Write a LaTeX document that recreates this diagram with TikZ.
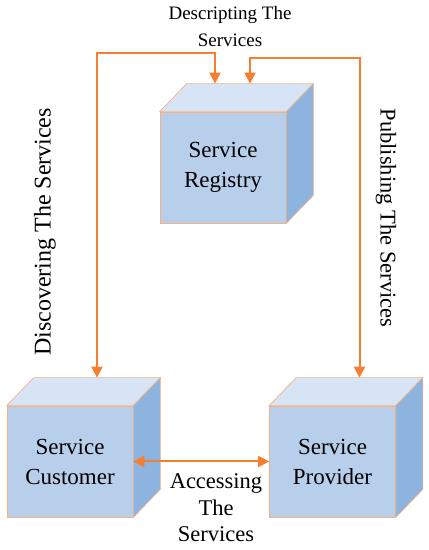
\documentclass[tikz,border=0pt]{standalone}
\usepackage{fontspec}
\setmainfont{Liberation Serif}
\usetikzlibrary{arrows.meta,positioning,calc}

\definecolor{facefront}{RGB}{184,207,235}
\definecolor{facetop}{RGB}{215,228,245}
\definecolor{faceside}{RGB}{141,180,222}
\definecolor{cubeedge}{RGB}{244,177,131}
\definecolor{linkorange}{RGB}{247,125,48}

\tikzset{
  cube/.style={rectangle, draw=cubeedge, line width=0.7pt, fill=facefront,
    minimum width=126pt, minimum height=111pt, inner sep=0pt, align=center,
    font=\fontsize{23}{30}\selectfont},
  link/.style={color=linkorange, line width=2pt,
    {Triangle[length=11pt,width=11pt]}-{Triangle[length=11pt,width=11pt]}},
  linklabel/.style={align=center, font=\fontsize{21}{26.5}\selectfont},
}

% top and side of a cube drawn behind its front node
\newcommand{\drawcube}[1]{%
  \fill[facetop, draw=cubeedge, line width=0.7pt] (#1.north west) -- ++(27,28)
    -- ($(#1.north east)+(27,28)$) -- (#1.north east) -- cycle;
  \fill[faceside, draw=cubeedge, line width=0.7pt] (#1.north east) -- ++(27,28)
    -- ($(#1.south east)+(27,28)$) -- (#1.south east) -- cycle;
  \coordinate (#1-top) at ($(#1.north)+(27,28)$);
}

\begin{document}
\begin{tikzpicture}[x=1pt,y=1pt]
  \useasboundingbox (0,0) rectangle (429,550);

  \node[cube] (reg) at (223,382.5) {Service\\Registry};
  \node[cube] (cus) at (70,88.5) {Service\\Customer};
  \node[cube] (pro) at (332.5,88.5) {Service\\Provider};
  \drawcube{reg}
  \drawcube{cus}
  \drawcube{pro}

  \draw[link] ([xshift=-35pt]reg-top) -- ++(0,31) -| (cus-top);
  \draw[link] (reg-top) -- ++(0,26) -| (pro-top);
  \draw[link] (cus.east) -- (pro.west);

  \node[linklabel, font=\fontsize{19}{27}\selectfont] (desc) at (230,523)
    {Descripting The\\Services};
  \node[linklabel, font=\fontsize{24}{30}\selectfont, rotate=90] (disc) at (45,318)
    {Discovering The Services};
  \node[linklabel, font=\fontsize{22.5}{30}\selectfont, rotate=-90] (publ) at (386,332)
    {Publishing The Services};
  \node[linklabel, font=\fontsize{22.5}{26.5}\selectfont] (acc) at (216,42)
    {Accessing\\The\\Services};
\end{tikzpicture}
\end{document}
